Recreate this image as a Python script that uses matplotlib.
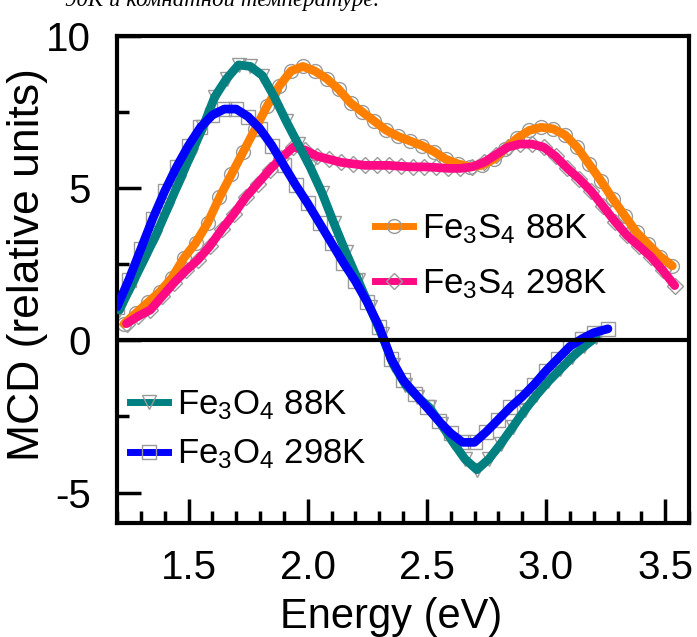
import numpy as np
import matplotlib
matplotlib.use('Agg')
import matplotlib.pyplot as plt
from matplotlib.lines import Line2D
from matplotlib.ticker import MultipleLocator

plt.rcParams['font.family'] = ['Liberation Sans', 'DejaVu Sans']
plt.rcParams['mathtext.default'] = 'regular'
plt.rcParams['axes.unicode_minus'] = False

# Fe3O4 88K (teal, down triangles)
e_o88 = [1.21, 1.26, 1.31, 1.36, 1.41, 1.46, 1.51, 1.56, 1.61, 1.66,
         1.71, 1.76, 1.81, 1.86, 1.91, 1.96, 2.01, 2.06, 2.11, 2.16,
         2.21, 2.26, 2.31, 2.36, 2.41, 2.46, 2.51, 2.56, 2.61, 2.66,
         2.71, 2.76, 2.81, 2.86, 2.91, 2.96, 3.01, 3.06, 3.11, 3.16, 3.21]
mcd_o88 = [1.0, 1.8, 2.6, 3.4, 4.3, 5.2, 6.1, 7.0, 8.0, 8.6,
           9.05, 9.0, 8.7, 8.0, 7.2, 6.45, 5.7, 4.85, 3.85, 2.9,
           2.0, 1.1, 0.2, -0.8, -1.45, -1.85, -2.2, -2.75, -3.35, -3.9,
           -4.25, -3.9, -3.4, -2.85, -2.3, -1.8, -1.35, -0.95, -0.55, -0.2, 0.1]

# Fe3O4 298K (blue, squares)
e_o298 = [1.20, 1.25, 1.30, 1.35, 1.40, 1.45, 1.50, 1.55, 1.60, 1.65,
          1.70, 1.75, 1.80, 1.85, 1.90, 1.95, 2.00, 2.05, 2.10, 2.15,
          2.20, 2.25, 2.30, 2.35, 2.40, 2.45, 2.50, 2.55, 2.60, 2.65,
          2.70, 2.75, 2.80, 2.85, 2.90, 2.95, 3.00, 3.05, 3.10, 3.15,
          3.20, 3.26]
mcd_o298 = [1.1, 2.0, 3.0, 4.0, 4.9, 5.7, 6.4, 7.0, 7.4, 7.6,
            7.6, 7.35, 6.95, 6.4, 5.75, 5.1, 4.5, 3.85, 3.2, 2.55,
            1.95, 1.25, 0.45, -0.6, -1.3, -1.75, -2.2, -2.65, -3.05, -3.35,
            -3.35, -3.0, -2.6, -2.2, -1.85, -1.45, -1.0, -0.6, -0.2, 0.05,
            0.25, 0.38]

# Fe3S4 88K (orange, circles)
e_s88 = [1.23, 1.28, 1.33, 1.38, 1.43, 1.48, 1.53, 1.58, 1.63, 1.68,
         1.73, 1.78, 1.83, 1.88, 1.93, 1.98, 2.03, 2.08, 2.13, 2.18,
         2.23, 2.28, 2.33, 2.38, 2.43, 2.48, 2.53, 2.58, 2.63, 2.68,
         2.73, 2.78, 2.83, 2.88, 2.93, 2.98, 3.03, 3.08, 3.13, 3.18,
         3.23, 3.28, 3.33, 3.38, 3.43, 3.48, 3.53]
mcd_s88 = [0.55, 0.9, 1.25, 1.6, 2.05, 2.7, 3.2, 3.85, 4.7, 5.45,
           6.2, 6.95, 7.7, 8.35, 8.85, 9.0, 8.85, 8.6, 8.25, 7.8,
           7.5, 7.2, 6.9, 6.7, 6.55, 6.4, 6.2, 5.95, 5.8, 5.7,
           5.75, 5.95, 6.3, 6.65, 6.9, 7.0, 6.95, 6.75, 6.35, 5.8,
           5.25, 4.65, 4.1, 3.55, 3.15, 2.75, 2.45]

# Fe3S4 298K (pink, diamonds)
e_s298 = [1.24, 1.29, 1.34, 1.39, 1.44, 1.49, 1.54, 1.59, 1.64, 1.69,
          1.74, 1.79, 1.84, 1.89, 1.94, 1.99, 2.04, 2.09, 2.14, 2.19,
          2.24, 2.29, 2.34, 2.39, 2.44, 2.49, 2.54, 2.59, 2.64, 2.69,
          2.74, 2.79, 2.84, 2.89, 2.94, 2.99, 3.04, 3.09, 3.14, 3.19,
          3.24, 3.29, 3.34, 3.39, 3.44, 3.49, 3.54]
mcd_s298 = [0.55, 0.8, 1.0, 1.45, 1.9, 2.3, 2.65, 3.1, 3.65, 4.15,
            4.7, 5.15, 5.6, 6.0, 6.35, 6.25, 6.05, 5.95, 5.85, 5.8,
            5.75, 5.75, 5.75, 5.72, 5.7, 5.7, 5.68, 5.65, 5.65, 5.7,
            5.85, 6.1, 6.35, 6.45, 6.45, 6.35, 6.05, 5.65, 5.3, 4.9,
            4.4, 3.9, 3.45, 3.1, 2.75, 2.3, 1.8]

W, H = 697, 637
fig = plt.figure(figsize=(W/100, H/100), dpi=100)
ax = fig.add_axes([117/W, 1-523/H, (689-117)/W, (523-36)/H])

mk_gray = '#9a9a9a'
series = [
    (e_s88, mcd_s88, '#ff8000', 'o', r'Fe$_3$S$_4$ 88K'),
    (e_s298, mcd_s298, '#ff0a85', 'D', r'Fe$_3$S$_4$ 298K'),
    (e_o88, mcd_o88, '#008080', 'v', r'Fe$_3$O$_4$ 88K'),
    (e_o298, mcd_o298, '#0000ff', 's', r'Fe$_3$O$_4$ 298K'),
]
handles = []
for e, m, c, mk, lab in series:
    ms = 8.5 if mk == 'D' else 10
    ax.plot(e, m, ls='none', marker=mk, ms=ms, mfc='none', mec=mk_gray, mew=1, zorder=2)
for e, m, c, mk, lab in series:
    ax.plot(e, m, color=c, lw=6.3, solid_capstyle='round', solid_joinstyle='round', zorder=3)
    ms = 8.5 if mk == 'D' else 10
    handles.append(Line2D([], [], color=c, lw=5, marker=mk, ms=ms, mfc='none',
                          mec=mk_gray, mew=1, label=lab))

ax.axhline(0, color='k', lw=3, zorder=4)

ax.set_xlim(1.2, 3.6)
ax.set_ylim(-6, 10)
ax.xaxis.set_major_locator(MultipleLocator(0.5))
ax.xaxis.set_minor_locator(MultipleLocator(0.1))
ax.yaxis.set_major_locator(MultipleLocator(5))
ax.yaxis.set_minor_locator(MultipleLocator(2.5))
ax.set_xticks([1.5, 2.0, 2.5, 3.0, 3.5])
ax.set_xticklabels(['1.5', '2.0', '2.5', '3.0', '3.5'])
ax.tick_params(which='major', direction='in', length=17, width=2.5, labelsize=29, pad=19)
ax.tick_params(which='minor', direction='in', length=8.5, width=2.5)
for s in ax.spines.values():
    s.set_linewidth(3)

leg1 = ax.legend(handles=handles[:2], loc='center left', bbox_to_anchor=(0.451, 0.547),
                 frameon=False, fontsize=25, handlelength=1.1, handletextpad=0.25,
                 labelspacing=0.6, borderpad=0, borderaxespad=0)
ax.add_artist(leg1)
ax.legend(handles=handles[2:], loc='center left', bbox_to_anchor=(0.0227, 0.191),
          frameon=False, fontsize=25, handlelength=1.1, handletextpad=0.25,
          labelspacing=0.45, borderpad=0, borderaxespad=0)

fig.text(28/W, 1-265/H, 'MCD (relative units)', rotation=90, ha='center', va='center', fontsize=32)
fig.text(391/W, 1-628/H, 'Energy (eV)', ha='center', va='baseline', fontsize=30)
fig.text(65/W, 1-6/H, '90К и комнатной температуре.', ha='left', va='baseline',
         fontsize=16.5, family='Liberation Serif', style='italic')

fig.savefig('out.png', dpi=100)
